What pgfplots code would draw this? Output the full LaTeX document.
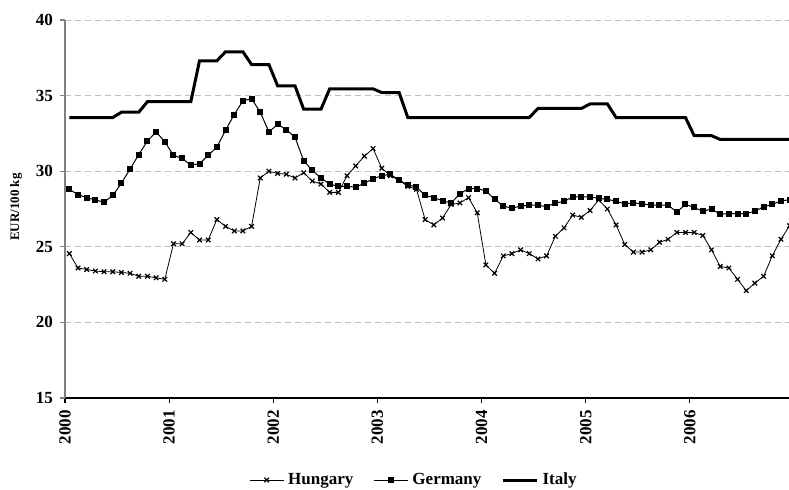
\documentclass[border=0pt]{standalone}
\usepackage{fontspec}
\setmainfont{Liberation Serif}
\usepackage{pgfplots}
\pgfplotsset{compat=1.18}
\usepackage{pgfplotstable}

% monthly prices, points centred in each month (x = month + 0.5)
\pgfplotstableread{
x y
0.5 24.55
1.5 23.6
2.5 23.5
3.5 23.4
4.5 23.35
5.5 23.35
6.5 23.3
7.5 23.25
8.5 23.05
9.5 23.05
10.5 22.95
11.5 22.85
12.5 25.2
13.5 25.2
14.5 25.95
15.5 25.45
16.5 25.45
17.5 26.8
18.5 26.35
19.5 26.05
20.5 26.05
21.5 26.35
22.5 29.55
23.5 30.0
24.5 29.85
25.5 29.8
26.5 29.55
27.5 29.9
28.5 29.35
29.5 29.15
30.5 28.6
31.5 28.6
32.5 29.7
33.5 30.35
34.5 31.0
35.5 31.5
36.5 30.2
37.5 29.7
38.5 29.4
39.5 29.0
40.5 28.8
41.5 26.8
42.5 26.45
43.5 26.9
44.5 27.8
45.5 27.9
46.5 28.25
47.5 27.25
48.5 23.8
49.5 23.25
50.5 24.4
51.5 24.55
52.5 24.8
53.5 24.55
54.5 24.2
55.5 24.4
56.5 25.7
57.5 26.25
58.5 27.1
59.5 26.95
60.5 27.4
61.5 28.1
62.5 27.5
63.5 26.45
64.5 25.15
65.5 24.65
66.5 24.65
67.5 24.8
68.5 25.3
69.5 25.5
70.5 25.95
71.5 25.95
72.5 25.95
73.5 25.75
74.5 24.8
75.5 23.7
76.5 23.6
77.5 22.85
78.5 22.1
79.5 22.6
80.5 23.05
81.5 24.4
82.5 25.5
83.5 26.4
}\hungary

\pgfplotstableread{
x y
0.5 28.8
1.5 28.45
2.5 28.25
3.5 28.1
4.5 27.95
5.5 28.4
6.5 29.2
7.5 30.15
8.5 31.1
9.5 32.0
10.5 32.6
11.5 31.95
12.5 31.05
13.5 30.85
14.5 30.4
15.5 30.5
16.5 31.05
17.5 31.6
18.5 32.7
19.5 33.75
20.5 34.65
21.5 34.8
22.5 33.9
23.5 32.6
24.5 33.1
25.5 32.75
26.5 32.25
27.5 30.7
28.5 30.05
29.5 29.55
30.5 29.15
31.5 29.0
32.5 29.0
33.5 28.95
34.5 29.2
35.5 29.5
36.5 29.7
37.5 29.8
38.5 29.4
39.5 29.1
40.5 28.95
41.5 28.4
42.5 28.25
43.5 28.05
44.5 27.9
45.5 28.5
46.5 28.85
47.5 28.85
48.5 28.7
49.5 28.15
50.5 27.7
51.5 27.55
52.5 27.7
53.5 27.75
54.5 27.75
55.5 27.65
56.5 27.9
57.5 28.0
58.5 28.3
59.5 28.3
60.5 28.3
61.5 28.2
62.5 28.15
63.5 28.0
64.5 27.85
65.5 27.9
66.5 27.85
67.5 27.75
68.5 27.75
69.5 27.75
70.5 27.3
71.5 27.8
72.5 27.6
73.5 27.35
74.5 27.5
75.5 27.15
76.5 27.2
77.5 27.2
78.5 27.2
79.5 27.35
80.5 27.65
81.5 27.8
82.5 28.05
83.5 28.1
}\germany

\pgfplotstableread{
x y
0.5 33.55
1.5 33.55
2.5 33.55
3.5 33.55
4.5 33.55
5.5 33.55
6.5 33.9
7.5 33.9
8.5 33.9
9.5 34.6
10.5 34.6
11.5 34.6
12.5 34.6
13.5 34.6
14.5 34.6
15.5 37.3
16.5 37.3
17.5 37.3
18.5 37.9
19.5 37.9
20.5 37.9
21.5 37.05
22.5 37.05
23.5 37.05
24.5 35.65
25.5 35.65
26.5 35.65
27.5 34.1
28.5 34.1
29.5 34.1
30.5 35.45
31.5 35.45
32.5 35.45
33.5 35.45
34.5 35.45
35.5 35.45
36.5 35.2
37.5 35.2
38.5 35.2
39.5 33.55
40.5 33.55
41.5 33.55
42.5 33.55
43.5 33.55
44.5 33.55
45.5 33.55
46.5 33.55
47.5 33.55
48.5 33.55
49.5 33.55
50.5 33.55
51.5 33.55
52.5 33.55
53.5 33.55
54.5 34.15
55.5 34.15
56.5 34.15
57.5 34.15
58.5 34.15
59.5 34.15
60.5 34.45
61.5 34.45
62.5 34.45
63.5 33.55
64.5 33.55
65.5 33.55
66.5 33.55
67.5 33.55
68.5 33.55
69.5 33.55
70.5 33.55
71.5 33.55
72.5 32.35
73.5 32.35
74.5 32.35
75.5 32.1
76.5 32.1
77.5 32.1
78.5 32.1
79.5 32.1
80.5 32.1
81.5 32.1
82.5 32.1
83.5 32.1
}\italy

\begin{document}
\begin{tikzpicture}
\begin{axis}[
  at={(32.5pt,45.5pt)}, anchor=south west,
  scale only axis, width=364.5pt, height=189pt,
  xmin=0, xmax=84, ymin=15, ymax=40,
  axis x line*=bottom, axis y line*=left,
  x axis line style={black, line width=0.6pt, -},
  y axis line style={gray, line width=0.6pt, -},
  xtick={0,12,24,36,48,60,72},
  xticklabels={2000,2001,2002,2003,2004,2005,2006},
  ytick={15,20,25,30,35,40},
  tick align=outside, major tick length=2.5pt,
  x tick style={black, line width=0.6pt},
  y tick style={gray, line width=0.6pt},
  ymajorgrids,
  grid style={gray!50, line width=0.4pt, dash pattern=on 3pt off 2pt},
  tick label style={font=\fontsize{8.5}{10}\selectfont\bfseries},
  /pgf/number format/assume math mode=true,
  x tick label style={rotate=90, anchor=east},
  ylabel={EUR/100 kg},
  ylabel style={font=\fontsize{6.5}{8}\selectfont\bfseries,
    at={(axis description cs:-0.067,0.505)}, anchor=center},
  legend style={at={(0.48,-0.217)}, anchor=center, draw=none, fill=none,
    font=\fontsize{8.5}{10}\selectfont\bfseries,
    /tikz/every even column/.append style={column sep=8pt}},
  legend columns=3,
]
\addplot[black, line width=0.4pt, mark=x, mark size=1.6pt,
  mark options={line width=0.6pt}] table {\hungary};
\addplot[black, line width=0.5pt, mark=square*, mark size=1.25pt] table {\germany};
\addplot[black, line width=1.5pt] table {\italy};
\legend{Hungary, Germany, Italy}
\end{axis}
\pgfresetboundingbox
\path[use as bounding box] (0,0) rectangle (394.5pt,244.5pt);
\end{tikzpicture}
\end{document}
